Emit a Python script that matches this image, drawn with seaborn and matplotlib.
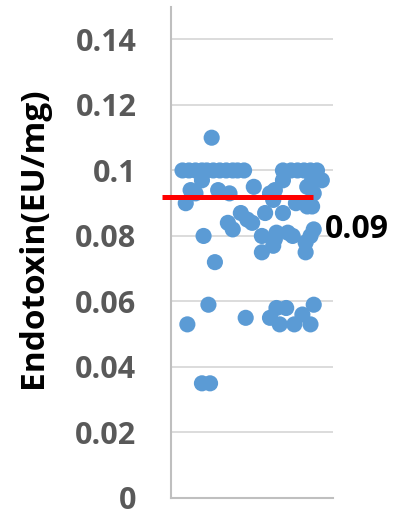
import matplotlib
matplotlib.use('Agg')
import matplotlib.pyplot as plt
import seaborn as sns
import pandas as pd

# sample position (arbitrary horizontal spread) and endotoxin value
sample_pos = [7, 11, 15, 19, 22, 26, 30, 34, 38, 41, 45,
              25, 19, 12, 15, 9, 29, 36, 51,
              20, 27, 35, 38, 43, 47, 50, 56, 56,
              10, 23, 46, 19, 24,
              69, 74, 78, 82, 86, 90,
              69, 93, 87, 64, 61, 84, 88, 63, 77, 84, 87, 58, 69,
              64, 65, 72, 75, 83, 86, 88, 83, 63,
              61, 65, 71, 67, 76, 81, 86, 88]
endotoxin = [0.100, 0.100, 0.100, 0.100, 0.100, 0.100, 0.100, 0.100, 0.100, 0.100, 0.100,
             0.110, 0.097, 0.094, 0.093, 0.090, 0.094, 0.093, 0.095,
             0.080, 0.072, 0.084, 0.082, 0.087, 0.085, 0.084, 0.080, 0.075,
             0.053, 0.059, 0.055, 0.035, 0.035,
             0.100, 0.100, 0.100, 0.100, 0.100, 0.100,
             0.097, 0.097, 0.097, 0.094, 0.093, 0.095, 0.093, 0.091, 0.090, 0.089, 0.089, 0.087, 0.087,
             0.079, 0.081, 0.081, 0.080, 0.078, 0.080, 0.082, 0.075, 0.077,
             0.055, 0.058, 0.058, 0.053, 0.053, 0.056, 0.053, 0.059]
mean_value = 0.0918
mean_label = '0.09'
yticks = [0, 0.02, 0.04, 0.06, 0.08, 0.1, 0.12, 0.14]
ytick_labels = ['0', '0.02', '0.04', '0.06', '0.08', '0.1', '0.12', '0.14']

df = pd.DataFrame({'pos': sample_pos, 'endotoxin': endotoxin})

sns.set_style('white')
plt.rcParams['font.family'] = ['Open Sans', 'DejaVu Sans']

fig = plt.figure(figsize=(3.99, 5.16), dpi=100)
ax = fig.add_axes([0.429, 0.035, 0.406, 0.952])

sns.scatterplot(data=df, x='pos', y='endotoxin', ax=ax, s=135, color='#5B9BD5',
                edgecolor='none', linewidth=0, zorder=3)

# mean line, reaches a little past the axis on the left
ax.plot([-5.6, 87.7], [mean_value, mean_value], color='#FF0000', lw=3.6,
        solid_capstyle='butt', clip_on=False, zorder=4)
ax.text(95, 0.082, mean_label, fontsize=23, fontweight='bold', color='black',
        va='center', ha='left', clip_on=False)

ax.set_xlim(0, 100)
ax.set_ylim(0, 0.15)
ax.set_yticks(yticks)
ax.set_yticklabels(ytick_labels)
ax.set_xticks([])
ax.tick_params(axis='y', length=0, pad=25, labelsize=22, labelcolor='#595959')
for t in ax.get_yticklabels():
    t.set_fontweight('bold')
ax.grid(axis='y', color='#D9D9D9', lw=1.3, zorder=0)
ax.set_axisbelow(True)

for side in ['top', 'right']:
    ax.spines[side].set_visible(False)
for side in ['left', 'bottom']:
    ax.spines[side].set_color('#BFBFBF')
    ax.spines[side].set_linewidth(1.5)

ax.set_xlabel('')
ax.set_ylabel('Endotoxin(EU/mg)', fontsize=24, fontweight='bold', color='black')
ax.yaxis.set_label_coords(-0.75, 0.53)

fig.savefig('out.png', dpi=100)
plt.close()
